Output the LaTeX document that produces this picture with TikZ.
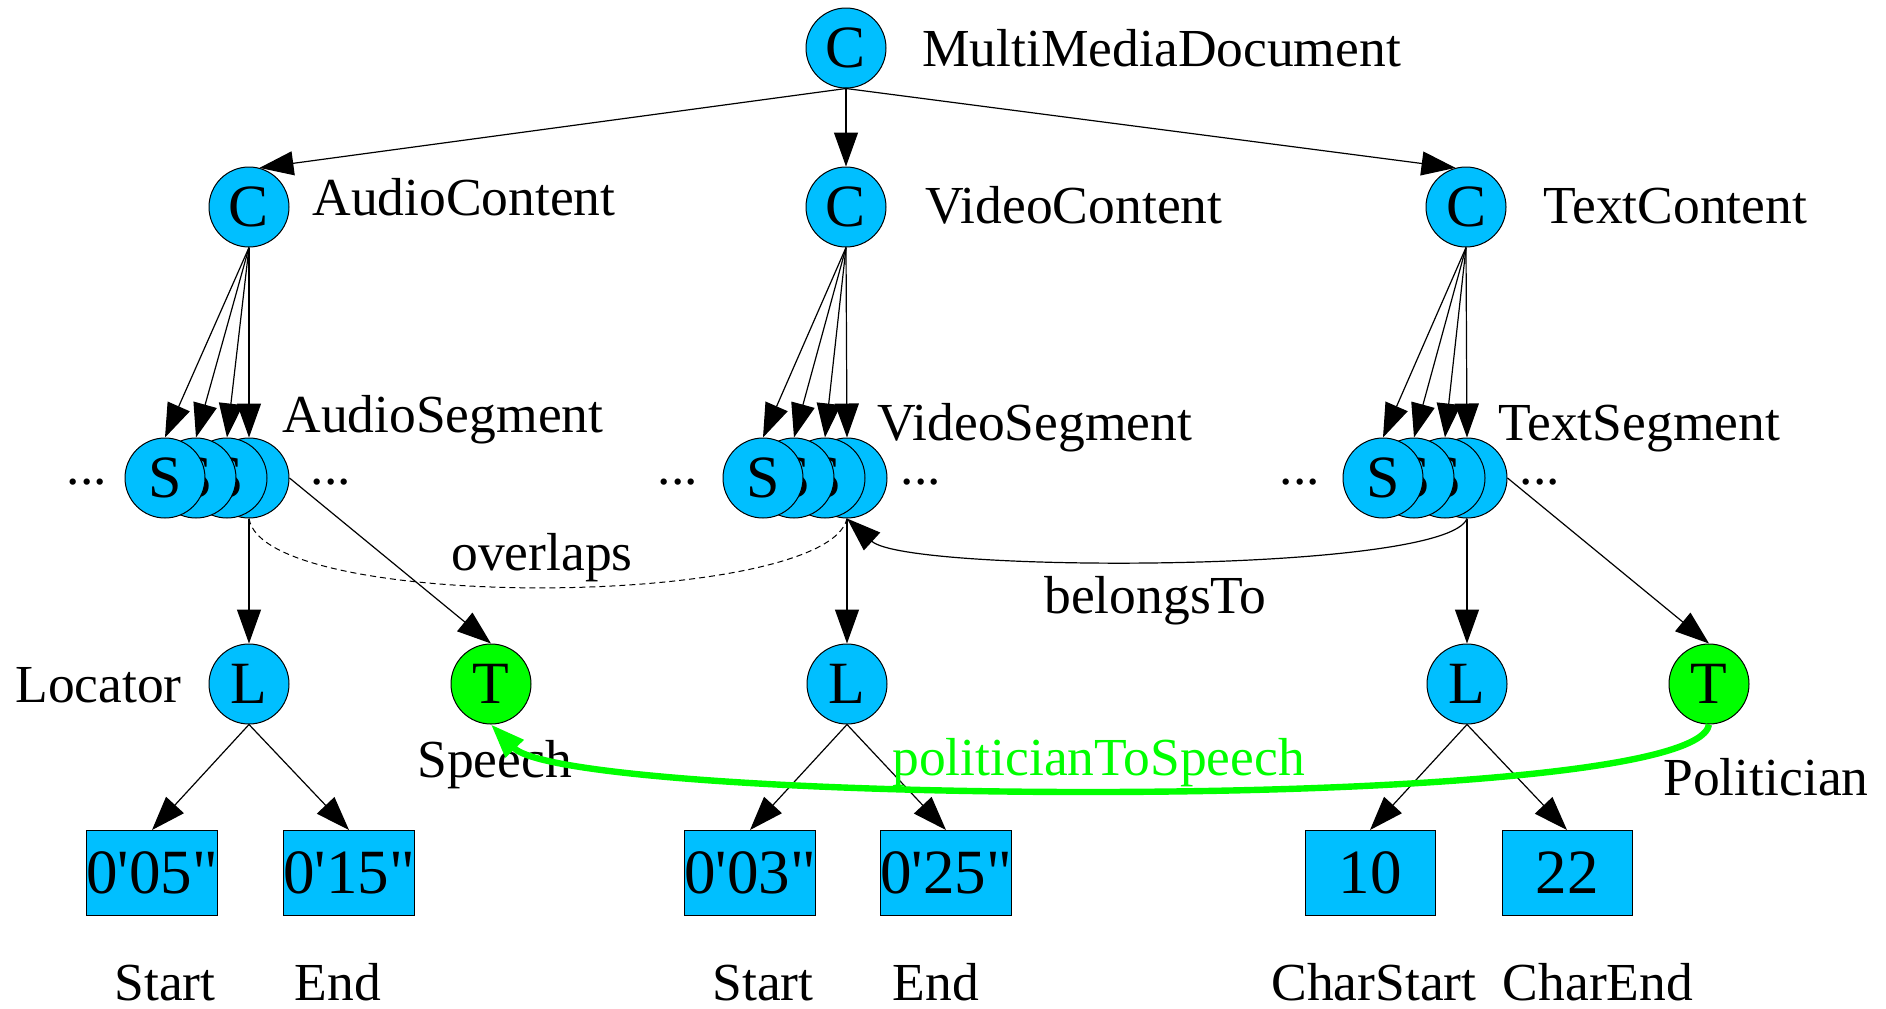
\documentclass[tikz,border=0pt]{standalone}
\usepackage{fontspec}
\setmainfont{Liberation Serif}
\newfontfamily\valfont{Liberation Serif}[Ligatures=TeXOff]
\usetikzlibrary{arrows.meta}
\definecolor{SkyFill}{RGB}{0,191,255}
\definecolor{LinkGreen}{RGB}{0,255,0}

\begin{document}
\begin{tikzpicture}[x=.5pt,y=-.5pt,>={Triangle[length=17pt,width=12pt]},
  every node/.style={inner sep=0pt,font=\fontsize{26.75}{30}\selectfont},
  cls/.style={circle,draw,line width=.5pt,fill=SkyFill,minimum size=40pt,font=\fontsize{30}{32}\selectfont},
  tag/.style={cls,fill=LinkGreen},
  val/.style={draw,line width=.5pt,fill=SkyFill,minimum width=65pt,minimum height=42.5pt,font=\valfont\fontsize{31.5}{34}\selectfont},
  lbl/.style={anchor=base west},
  sub/.style={anchor=base},
  edge/.style={->,line width=.6pt}]
\useasboundingbox (0,0) rectangle (1886,1008);
% classes
\node[cls] (doc) at (846,48) {C};\node[lbl] (docname) at (922,66) {MultiMediaDocument};
\node[cls] (ac) at (249,207) {C};\node[lbl] (acname) at (312,215) {AudioContent};
\node[cls] (vc) at (846,207) {C};\node[lbl] (vcname) at (925,223) {VideoContent};
\node[cls] (tc) at (1466,207) {C};\node[lbl] (tcname) at (1543,223) {TextContent};
% segment stacks, back one first
\foreach \p/\x in {a/249,v/847,t/1467}
  \foreach \i/\d in {4/0,3/22,2/53,1/84} \node[cls] (\p\i) at (\x-\d,478) {S};
\node[lbl] (asname) at (282,432) {AudioSegment};
\node[lbl] (vsname) at (877,440) {VideoSegment};
\node[lbl] (tsname) at (1498,440) {TextSegment};
\foreach \n/\x in {al/87,ar/331,vl/678,vr/921,tl/1300,tr/1540} \node (dots\n) at (\x,482) {...};
% locators and tags
\node[cls] (aloc) at (249,684) {L};\node[lbl] (locname) at (15,702) {Locator};
\node[tag] (speech) at (491,684) {T};\node[lbl] (speechname) at (417,777) {Speech};
\node[cls] (vloc) at (847,684) {L};
\node[cls] (tloc) at (1467,684) {L};
\node[tag] (politician) at (1709,684) {T};\node[lbl] (polname) at (1663,795) {Politician};
% values
\node[val] (astart) at (152,873) {0'05"};\node[val] (aend) at (349,873) {0'15"};
\node[val] (vstart) at (750,873) {0'03"};\node[val] (vend) at (946,873) {0'25"};
\node[val] (tstart) at (1370,873) {10};\node[val] (tend) at (1567,873) {22};
\node[sub] (astartname) at (165,1000) {Start};\node[sub] (aendname) at (338,1000) {End};
\node[sub] (vstartname) at (763,1000) {Start};\node[sub] (vendname) at (936,1000) {End};
\node[sub] (tstartname) at (1374,1000) {CharStart};\node[sub] (tendname) at (1598,1000) {CharEnd};
% edges
\draw[edge] (doc.south)--(ac.75);\draw[edge] (doc)--(vc);\draw[edge] (doc.south)--(tc.105);
\foreach \p/\c in {a/ac,v/vc,t/tc}
  \foreach \i in {1,...,4} \draw[edge] (\c.south)--(\p\i.north);
\draw[edge] (a4.south)--(aloc);\draw[edge] (v4.south)--(vloc);\draw[edge] (t4.south)--(tloc);
\draw[edge] (a4.east)--(speech.north);\draw[edge] (t4.east)--(politician.north);
\foreach \l/\s/\e in {aloc/astart/aend,vloc/vstart/vend,tloc/tstart/tend}
  {\draw[edge] (\l.south)--(\s.north);\draw[edge] (\l.south)--(\e.north);}
% relations
\draw[line width=.5pt,dash pattern=on 3pt off 2pt] (a4.south) .. controls +(15,95) and +(-20,90) .. (v4.south);
\node[lbl] (ovname) at (451,570) {overlaps};
\draw[edge] (t4.south) .. controls +(-20,55) and +(60,55) .. (v4.south);
\node[lbl] (btname) at (1044,613) {belongsTo};
\draw[->,LinkGreen,line width=3.2pt] (politician.south) .. controls +(-14,91) and +(79,81) .. (speech.south);
\node[lbl,text=LinkGreen] (p2sname) at (892,775) {politicianToSpeech};
\end{tikzpicture}
\end{document}
